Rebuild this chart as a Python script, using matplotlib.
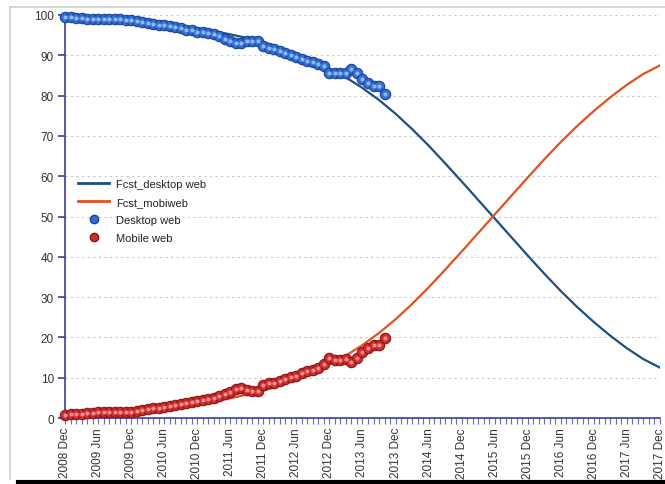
import numpy as np
import matplotlib
matplotlib.use("Agg")
import matplotlib.pyplot as plt
from matplotlib.lines import Line2D

plt.rcParams['font.family'] = ['Liberation Sans', 'DejaVu Sans']

# month labels, one per month from 2008 Dec to 2017 Dec
start_year, n_months = 2008, 109
month_names = ["Dec", "Jan", "Feb", "Mar", "Apr", "May", "Jun",
               "Jul", "Aug", "Sep", "Oct", "Nov"]
tick_labels = []
for i in range(n_months):
    yr = start_year + (i + 11) // 12
    tick_labels.append(f"{yr} {month_names[i % 12]}" if i % 6 == 0 else "")

# observed monthly shares (2008 Dec .. 2013 Oct)
desktop_obs = [99.6, 99.4, 99.3, 99.2, 99.1, 99.0, 99.0, 99.0, 98.9, 98.9,
               98.9, 98.8, 98.7, 98.5, 98.3, 98.0, 97.8, 97.6, 97.4, 97.2,
               96.9, 96.7, 96.4, 96.2, 95.9, 95.7, 95.5, 95.2, 94.7, 94.1,
               93.5, 93.0, 93.1, 93.5, 93.6, 93.5, 92.2, 91.8, 91.5, 91.1,
               90.6, 90.1, 89.7, 89.2, 88.7, 88.3, 87.9, 87.3, 85.7, 85.6,
               85.7, 85.5, 86.6, 85.6, 84.1, 83.1, 82.5, 82.4, 80.4]
mobile_obs = [0.7, 0.9, 1.0, 1.1, 1.2, 1.3, 1.4, 1.4, 1.4, 1.4,
              1.4, 1.5, 1.6, 1.8, 2.0, 2.2, 2.4, 2.6, 2.8, 3.0,
              3.3, 3.5, 3.8, 4.0, 4.2, 4.5, 4.7, 4.9, 5.4, 5.9,
              6.5, 7.3, 7.4, 6.9, 6.7, 6.8, 8.2, 8.6, 8.8, 9.1,
              9.7, 10.1, 10.5, 11.1, 11.7, 12.0, 12.4, 13.4, 14.8, 14.5,
              14.4, 14.6, 13.8, 14.8, 16.3, 17.3, 18.2, 18.2, 19.8]

# forecast, read every 3 months (2008 Dec .. 2017 Dec)
fcst_desktop = [99.7, 99.6, 99.4, 99.2, 98.9, 98.5, 98.0, 97.4, 96.7, 96.0,
                95.2, 94.3, 93.3, 91.9, 90.3, 88.6, 86.7, 84.5, 81.9, 78.9,
                75.5, 71.7, 67.6, 63.2, 58.7, 54.1, 49.5, 44.9, 40.3, 35.8,
                31.5, 27.5, 23.8, 20.4, 17.3, 14.6, 12.5]
fcst_mobile = [0.4, 0.5, 0.7, 0.9, 1.2, 1.6, 2.1, 2.7, 3.4, 4.1,
               4.9, 5.8, 6.8, 8.0, 9.6, 11.3, 13.3, 15.5, 18.1, 21.1,
               24.5, 28.3, 32.4, 36.8, 41.3, 45.9, 50.5, 55.1, 59.7, 64.2,
               68.5, 72.5, 76.2, 79.6, 82.7, 85.4, 87.5]

x_obs = np.arange(len(desktop_obs))
x_fc = np.arange(len(fcst_desktop)) * 3

axis_col = "#3b3ba6"
desk_line, mob_line = "#1b4f88", "#e5501f"

fig = plt.figure(figsize=(6.65, 4.85), dpi=100)
ax = fig.add_axes([65 / 665, 1 - 419 / 485, 595 / 665, 403 / 485])

ax.plot(x_fc, fcst_desktop, color=desk_line, lw=1.6, zorder=3)
ax.plot(x_fc, fcst_mobile, color=mob_line, lw=1.6, zorder=3)

ax.plot(x_obs, desktop_obs, 'o', ms=7.5, mfc="#2f6fd8", mec="#1a4399",
        mew=0.8, clip_on=False, zorder=4)
ax.plot(x_obs, desktop_obs, 'o', ms=3, mfc="#8fb8f2", mec="none",
        clip_on=False, zorder=5)
ax.plot(x_obs, mobile_obs, 'o', ms=7.5, mfc="#d32a2a", mec="#8c1414",
        mew=0.8, clip_on=False, zorder=4)
ax.plot(x_obs, mobile_obs, 'o', ms=3, mfc="#ef8f8f", mec="none",
        clip_on=False, zorder=5)

ax.set_xlim(0, n_months - 1)
ax.set_ylim(0, 100)
ax.set_yticks(range(0, 101, 10))
ax.set_xticks(range(n_months))
ax.set_xticklabels(tick_labels, rotation=90, fontsize=8.5, color="#333333")
ax.tick_params(axis='y', labelsize=8.5, labelcolor="#333333", color=axis_col,
               length=5, width=1.2, pad=3)
ax.tick_params(axis='x', color="#6a6ac0", length=4.5, width=0.8, pad=2)

ax.grid(axis='y', color="#c8c8c8", ls=(0, (2, 3)), lw=0.8)
ax.set_axisbelow(True)
for s in ("top", "right"):
    ax.spines[s].set_visible(False)
for s in ("left", "bottom"):
    ax.spines[s].set_color(axis_col)
    ax.spines[s].set_linewidth(1.2)

handles = [
    Line2D([], [], color=desk_line, lw=2),
    Line2D([], [], color=mob_line, lw=2),
    Line2D([], [], ls='none', marker='o', ms=6, mfc="#2f6fd8", mec="#1a4399"),
    Line2D([], [], ls='none', marker='o', ms=6, mfc="#d32a2a", mec="#8c1414"),
]
ax.legend(handles, ["Fcst_desktop web", "Fcst_mobiweb", "Desktop web", "Mobile web"],
          loc='upper left', bbox_to_anchor=(0.005, 0.617), frameon=False,
          fontsize=8, handlelength=2.8, handletextpad=0.6, labelspacing=0.72,
          labelcolor="#222222")

# screenshot frame: light border and dark bottom edge
fig.add_artist(Line2D([10 / 665, 10 / 665], [1 - 480 / 485, 1 - 8 / 485],
                      color="#cfcfcf", lw=1.2))
fig.add_artist(Line2D([10 / 665, 1], [1 - 8 / 485, 1 - 8 / 485],
                      color="#cfcfcf", lw=1.2))
fig.add_artist(Line2D([18 / 665, 1], [1 - 483 / 485, 1 - 483 / 485],
                      color="black", lw=3))

fig.savefig("out.png", dpi=100)
